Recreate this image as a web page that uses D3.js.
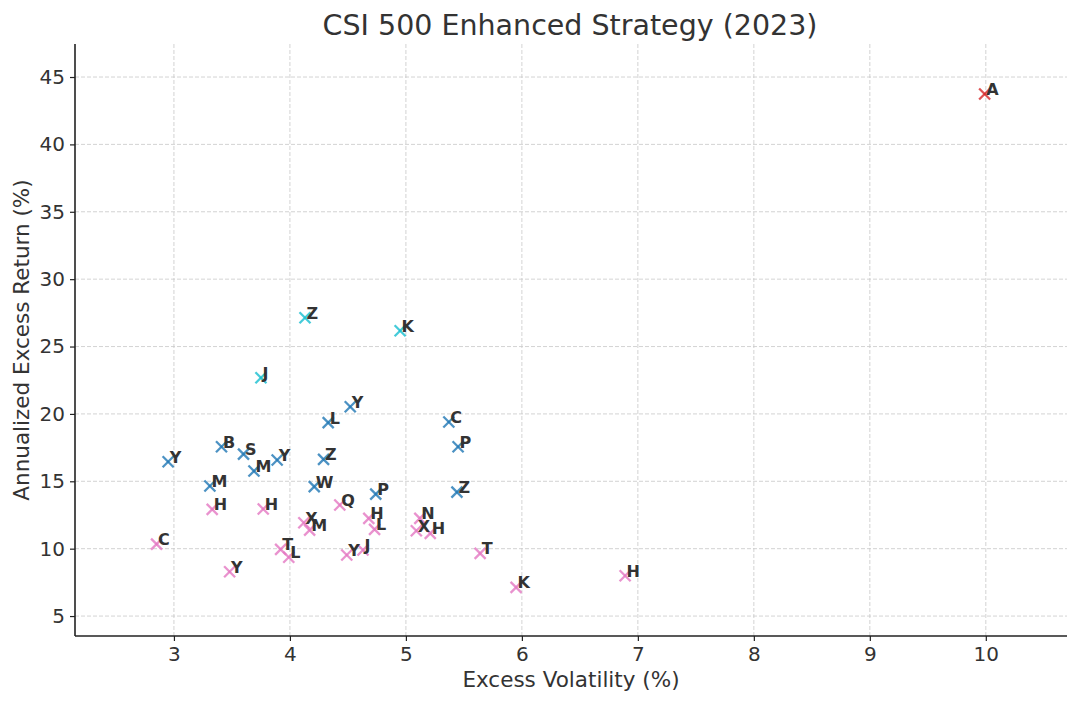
<!DOCTYPE html>
<html>
<head>
<meta charset="utf-8">
<script src="https://cdn.jsdelivr.net/npm/d3@7"></script>
<style>
  body { margin: 0; background: #fff; }
  svg text { font-family: "DejaVu Sans", sans-serif; }
</style>
</head>
<body>
<div id="chart"></div>
<script>
// CSI 500 enhanced funds, excess volatility vs annualized excess return

const fundLabels = ['A',
  'Z', 'K', 'J',
  'Y', 'L', 'C', 'P', 'B', 'S', 'Y', 'Z', 'Y', 'M', 'M', 'W', 'P', 'Z',
  'C', 'H', 'H', 'Y', 'T', 'L', 'X', 'M', 'Q', 'Y', 'J', 'H', 'L', 'N', 'X', 'H', 'T', 'K', 'H'];
const fundGroups = ['top',
  'high', 'high', 'high',
  'mid', 'mid', 'mid', 'mid', 'mid', 'mid', 'mid', 'mid', 'mid', 'mid', 'mid', 'mid', 'mid', 'mid',
  'low', 'low', 'low', 'low', 'low', 'low', 'low', 'low', 'low', 'low', 'low', 'low', 'low', 'low', 'low', 'low', 'low', 'low', 'low'];
const excessVol = [9.99,
  4.13, 4.95, 3.75,
  4.52, 4.33, 5.37, 5.45, 3.41, 3.60, 3.89, 4.29, 2.95, 3.69, 3.31, 4.21, 4.74, 5.44,
  2.85, 3.33, 3.77, 3.48, 3.92, 3.99, 4.12, 4.17, 4.43, 4.49, 4.63, 4.68, 4.73, 5.12, 5.09, 5.21, 5.64, 5.95, 6.89];
const excessRet = [43.74,
  27.14, 26.17, 22.68,
  20.53, 19.35, 19.40, 17.56, 17.56, 17.02, 16.58, 16.63, 16.45, 15.76, 14.65, 14.60, 14.05, 14.20,
  10.34, 12.92, 12.94, 8.29, 9.95, 9.36, 11.92, 11.38, 13.24, 9.53, 9.90, 12.25, 11.43, 12.25, 11.33, 11.14, 9.65, 7.13, 7.99];

const xTicks = [3, 4, 5, 6, 7, 8, 9, 10];
const yTicks = [5, 10, 15, 20, 25, 30, 35, 40, 45];
const groupNames = ['top', 'high', 'mid', 'low'];
const groupColors = ['#d62728', '#17becf', '#1f77b4', '#e377c2'];

const width = 1080, height = 705;
const margin = {top: 44, right: 13, bottom: 69, left: 75};

const svg = d3.select('#chart').append('svg')
    .attr('width', width)
    .attr('height', height);

const x = d3.scaleLinear()
    .domain([2.147, 10.70])
    .range([margin.left, width - margin.right]);
const y = d3.scaleLinear()
    .domain([3.52, 47.45])
    .range([height - margin.bottom, margin.top]);
const color = d3.scaleOrdinal().domain(groupNames).range(groupColors);

// grid
svg.append('g')
    .selectAll('line')
    .data(xTicks)
    .join('line')
    .attr('x1', d => x(d)).attr('x2', d => x(d))
    .attr('y1', margin.top).attr('y2', height - margin.bottom)
    .attr('stroke', '#c8c8c8')
    .attr('stroke-width', 0.8)
    .attr('stroke-dasharray', '4,2');
svg.append('g')
    .selectAll('line')
    .data(yTicks)
    .join('line')
    .attr('x1', margin.left).attr('x2', width - margin.right)
    .attr('y1', d => y(d)).attr('y2', d => y(d))
    .attr('stroke', '#c8c8c8')
    .attr('stroke-width', 0.8)
    .attr('stroke-dasharray', '4,2');

// axes
const xAxis = svg.append('g')
    .attr('transform', `translate(0,${height - margin.bottom})`)
    .call(d3.axisBottom(x).tickValues(xTicks).tickSize(5).tickPadding(6).tickFormat(d3.format('d')));
const yAxis = svg.append('g')
    .attr('transform', `translate(${margin.left},0)`)
    .call(d3.axisLeft(y).tickValues(yTicks).tickSize(5).tickPadding(5).tickFormat(d3.format('d')));

[xAxis, yAxis].forEach(g => {
    g.select('.domain').attr('stroke', '#222').attr('stroke-width', 1.6);
    g.selectAll('.tick line').attr('stroke', '#222').attr('stroke-width', 1.2);
    g.selectAll('.tick text')
        .attr('fill', '#333')
        .style('font-size', '20px')
        .style('font-family', '"DejaVu Sans", sans-serif');
});
xAxis.select('.domain').attr('d', `M${margin.left},0H${width - margin.right}`);
yAxis.select('.domain').attr('d', `M0,${height - margin.bottom}V${margin.top}`);

// points
const pts = fundLabels.map((name, i) => ({name, group: fundGroups[i], vx: excessVol[i], vy: excessRet[i]}));

const s = 5.5;
const marks = svg.append('g')
    .selectAll('g')
    .data(pts)
    .join('g')
    .attr('transform', d => `translate(${x(d.vx)},${y(d.vy)})`)
    .attr('stroke', d => color(d.group))
    .attr('stroke-opacity', 0.8)
    .attr('stroke-width', 2.3);
marks.append('line').attr('x1', -s).attr('y1', -s).attr('x2', s).attr('y2', s);
marks.append('line').attr('x1', -s).attr('y1', s).attr('x2', s).attr('y2', -s);

svg.append('g')
    .selectAll('text')
    .data(pts)
    .join('text')
    .attr('x', d => x(d.vx) + 1.5)
    .attr('y', d => y(d.vy) + 1)
    .attr('fill', '#333')
    .style('font-size', '16px')
    .style('font-weight', 'bold')
    .text(d => d.name);

// titles
svg.append('text')
    .attr('x', (margin.left + width - margin.right) / 2 - 1)
    .attr('y', 35)
    .attr('text-anchor', 'middle')
    .attr('fill', '#333')
    .style('font-size', '28.5px')
    .text('CSI 500 Enhanced Strategy (2023)');

svg.append('text')
    .attr('x', (margin.left + width - margin.right) / 2)
    .attr('y', 687)
    .attr('text-anchor', 'middle')
    .attr('fill', '#333')
    .style('font-size', '21.5px')
    .text('Excess Volatility (%)');

svg.append('text')
    .attr('transform', `translate(29,${(margin.top + height - margin.bottom) / 2}) rotate(-90)`)
    .attr('text-anchor', 'middle')
    .attr('fill', '#333')
    .style('font-size', '21.5px')
    .text('Annualized Excess Return (%)');
</script>
</body>
</html>
